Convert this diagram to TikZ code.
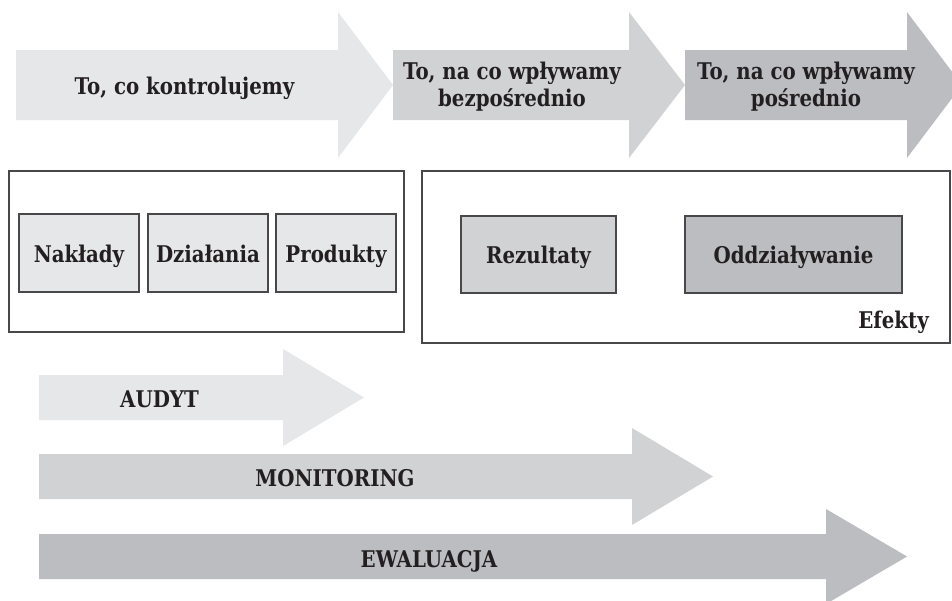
\documentclass[tikz,border=0pt]{standalone}
\usepackage{fontspec}
\setmainfont{DejaVu Serif}[FakeStretch=0.86]
\definecolor{ink}{HTML}{231F20}
\definecolor{shadeA}{HTML}{E6E7E8}
\definecolor{shadeB}{HTML}{D1D2D4}
\definecolor{shadeC}{HTML}{BCBDC0}
\definecolor{frame}{HTML}{48484A}
\tikzset{
  lbl/.style={font=\bfseries\fontsize{23}{27}\selectfont, text=ink, align=center, inner sep=0pt},
  caplbl/.style={font=\bfseries\fontsize{23}{27}\selectfont, text=ink, inner sep=0pt, anchor=base},
  stagebox/.style={draw=frame, line width=1.2pt, inner sep=0pt},
  groupbox/.style={draw=frame, line width=1.1pt, inner sep=0pt},
}
\begin{document}
\begin{tikzpicture}[x=1pt,y=-1pt]
\clip (0,0) rectangle (952,600);
\fill[white] (0,0) rectangle (952,600);

% top row: three process arrows
\fill[shadeA] (16,50) -- (338,50) -- (338,12) -- (393,85) -- (338,158) -- (338,120) -- (16,120) -- cycle;
\fill[shadeB] (393,50) -- (629,50) -- (629,12) -- (685,85) -- (629,158) -- (629,120) -- (393,120) -- cycle;
\fill[shadeC] (685,50) -- (907,50) -- (907,12) -- (962,85) -- (907,158) -- (907,120) -- (685,120) -- cycle;
\node[lbl, anchor=base] (ctrl) at (184.5,94) {To, co kontrolujemy};
\node[lbl] (direct) at (512,86.5) {To, na co wpływamy\\bezpośrednio};
\node[lbl] (indirect) at (806,86.5) {To, na co wpływamy\\pośrednio};

% middle row: grouping frames
\draw[groupbox] (9,171) rectangle (404,332);
\draw[groupbox] (422,171) rectangle (950,343);

\node[stagebox, fill=shadeA, minimum width=120pt, minimum height=78pt] (inputs) at (79,253) {};
\node[stagebox, fill=shadeA, minimum width=120pt, minimum height=78pt] (actions) at (208,253) {};
\node[stagebox, fill=shadeA, minimum width=120pt, minimum height=78pt] (products) at (336,253) {};
\node[stagebox, fill=shadeB, minimum width=155pt, minimum height=77pt] (results) at (538.5,254.5) {};
\node[stagebox, fill=shadeC, minimum width=217pt, minimum height=77pt] (impact) at (793.5,254.5) {};

\node[lbl, anchor=base] at (79,262) {Nakłady};
\node[lbl, anchor=base] at (208,262) {Działania};
\node[lbl, anchor=base] at (336,262) {Produkty};
\node[lbl, anchor=base] at (538.5,263) {Rezultaty};
\node[lbl, anchor=base] at (793.5,263) {Oddziaływanie};
\node[lbl, anchor=base east] (effects) at (929,328) {Efekty};

% bottom: scope of audit, monitoring and evaluation
\fill[shadeA] (39,375) -- (283,375) -- (283,349) -- (364,397.5) -- (283,446) -- (283,420) -- (39,420) -- cycle;
\fill[shadeB] (39,454) -- (632,454) -- (632,428) -- (713,476.5) -- (632,525) -- (632,499) -- (39,499) -- cycle;
\fill[shadeC] (39,534) -- (826,534) -- (826,509) -- (907,556.5) -- (826,604) -- (826,579) -- (39,579) -- cycle;
\node[caplbl] (audit) at (159.5,407) {AUDYT};
\node[caplbl] (monitor) at (335,486) {MONITORING};
\node[caplbl] (eval) at (429,567) {EWALUACJA};
\end{tikzpicture}
\end{document}
